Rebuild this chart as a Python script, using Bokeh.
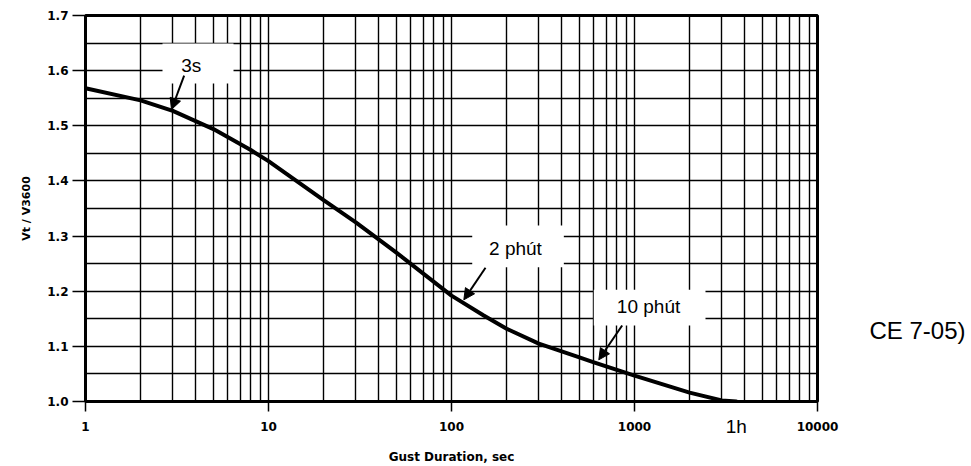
import numpy as np
from bokeh.plotting import figure
from bokeh.models import (FixedTicker, PrintfTickFormatter, Label, Arrow,
                          NormalHead, BoxAnnotation, Range1d, LinearAxis,
                          LogAxis)
from bokeh.embed import file_html
from bokeh.resources import INLINE

# ---- data ----
duration_s = [1, 2, 3, 5, 8, 10, 20, 30, 50, 100, 150, 200, 300, 500, 600,
              1000, 2000, 3000, 3600]
ratio = [1.568, 1.546, 1.527, 1.494, 1.456, 1.436, 1.365, 1.325, 1.270,
         1.192, 1.156, 1.132, 1.105, 1.080, 1.071, 1.047, 1.016, 1.002, 1.000]

x_ticks = [1, 10, 100, 1000, 10000]
x_tick_labels = ["1", "10", "100", "1000", "10000"]
y_ticks = [1.0, 1.1, 1.2, 1.3, 1.4, 1.5, 1.6, 1.7]
y_tick_labels = ["1.0", "1.1", "1.2", "1.3", "1.4", "1.5", "1.6", "1.7"]

side_note = "CE 7-05)"
side_note_y = 1.1296
hour_label = "1h"
hour_x = 3600

# grid positions (log paper)
grid_x = [m * 10 ** k for k in range(4) for m in range(1, 10)] + [10000]
grid_y = [round(1.0 + 0.05 * i, 2) for i in range(15)]

p = figure(width=971, height=466, x_axis_type="log",
           x_range=Range1d(1, 10000), y_range=Range1d(1.0, 1.7),
           output_backend="svg", toolbar_location=None,
           min_border_left=85, min_border_right=154,
           min_border_top=15, min_border_bottom=65,
           background_fill_color="white", border_fill_color="white")

p.outline_line_color = "black"
p.outline_line_width = 3

# axes
p.xaxis.ticker = FixedTicker(ticks=x_ticks, minor_ticks=[])
p.yaxis.ticker = FixedTicker(ticks=y_ticks, minor_ticks=[])
p.xaxis.formatter = PrintfTickFormatter(format="%d")
p.yaxis.formatter = PrintfTickFormatter(format="%.1f")
p.xaxis.major_label_overrides = {t: l for t, l in zip(x_ticks, x_tick_labels)}
p.yaxis.major_label_overrides = {t: l for t, l in zip(y_ticks, y_tick_labels)}

for ax in (p.xaxis, p.yaxis):
    ax.axis_line_color = "black"
    ax.axis_line_width = 3
    ax.major_tick_line_color = "black"
    ax.major_tick_line_width = 1.5
    ax.major_tick_in = 0
    ax.minor_tick_line_color = None
    ax.major_label_text_font = "DejaVu Sans"
    ax.major_label_text_font_style = "bold"
    ax.major_label_text_font_size = "12px"
    ax.major_label_text_color = "black"
    ax.axis_label_text_font = "DejaVu Sans"
    ax.axis_label_text_font_style = "bold"
    ax.axis_label_text_color = "black"

p.xaxis.major_tick_out = 10
p.xaxis.major_label_standoff = 10
p.yaxis.major_tick_out = 13
p.yaxis.major_label_standoff = 4

p.xaxis.axis_label = "Gust Duration, sec"
p.xaxis.axis_label_text_font_size = "12px"
p.xaxis.axis_label_standoff = 16
p.yaxis.axis_label = "Vt / V3600"
p.yaxis.axis_label_text_font_size = "11px"
p.yaxis.axis_label_standoff = 11

# right-hand side note drawn as an axis tick label (outside the frame)
note_axis = LinearAxis(ticker=FixedTicker(ticks=[side_note_y], minor_ticks=[]),
                       major_label_overrides={side_note_y: side_note},
                       axis_line_color=None, major_tick_line_color=None,
                       minor_tick_line_color=None, major_tick_out=0,
                       major_tick_in=0, major_label_standoff=52,
                       major_label_text_font="Liberation Sans",
                       major_label_text_font_size="24px",
                       major_label_text_color="black")
p.add_layout(note_axis, "right")

# "1h" drawn as a tick label of an extra, invisible bottom axis
hour_axis = LogAxis(ticker=FixedTicker(ticks=[hour_x], minor_ticks=[]),
                    major_label_overrides={hour_x: hour_label},
                    axis_line_color=None, major_tick_line_color=None,
                    minor_tick_line_color=None, major_tick_out=0,
                    major_tick_in=0, major_label_standoff=-51,
                    major_label_text_font="Liberation Sans",
                    major_label_text_font_size="19px",
                    major_label_text_color="black")
p.add_layout(hour_axis, "below")

# grid
p.xgrid.ticker = FixedTicker(ticks=grid_x)
p.ygrid.ticker = FixedTicker(ticks=grid_y)
for g in (p.xgrid, p.ygrid):
    g.grid_line_color = "black"
    g.grid_line_width = 1.4
    g.grid_line_alpha = 1.0

# curve
p.line(duration_s, ratio, line_color="black", line_width=4, line_cap="round",
       line_join="round")

# white boxes behind callout texts
for (l, r, b, t) in [(2.635, 6.44, 1.5767, 1.6492),
                     (129.8, 411.0, 1.2435, 1.3192),
                     (599.0, 2443.0, 1.1378, 1.2025)]:
    p.add_layout(BoxAnnotation(left=l, right=r, bottom=b, top=t,
                               fill_color="white", fill_alpha=1.0,
                               line_alpha=0, level="annotation"))

# callout texts
callouts = [("3s", 3.78, 1.609, "19px"),
            ("2 phút", 223.7, 1.2783, "19px"),
            ("10 phút", 1193.0, 1.1723, "19px")]
for txt, x, y, fs in callouts:
    p.add_layout(Label(x=x, y=y, text=txt, text_align="center",
                       text_baseline="middle", text_font="Liberation Sans",
                       text_font_size=fs, text_color="black"))

# arrows
for (xs, ys, xe, ye) in [(3.46, 1.591, 2.95, 1.5295),
                         (153.4, 1.2425, 116.8, 1.1844),
                         (856.0, 1.1378, 638.0, 1.0756)]:
    p.add_layout(Arrow(end=NormalHead(size=11, fill_color="black",
                                      line_color="black", line_width=1),
                       x_start=xs, y_start=ys, x_end=xe, y_end=ye,
                       line_color="black", line_width=2))

open("out.html", "w").write(file_html(p, INLINE))
